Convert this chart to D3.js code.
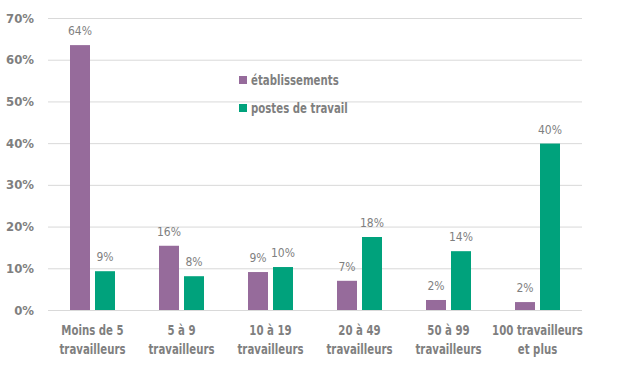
<!DOCTYPE html>
<html><head><meta charset="utf-8">
<script src="https://cdn.jsdelivr.net/npm/d3@7"></script>
<style>
body{margin:0;background:#fff;}
svg text{font-family:"Liberation Sans Narrow","DejaVu Sans Condensed","Arial Narrow",sans-serif;}
</style></head>
<body><svg id="c" width="618" height="381"></svg>
<script>
const categories = [["Moins de 5","travailleurs"],["5 à 9","travailleurs"],["10 à 19","travailleurs"],["20 à 49","travailleurs"],["50 à 99","travailleurs"],["100 travailleurs","et plus"]];
const etablissements = [63.5, 15.4, 9.1, 7.0, 2.4, 1.9];
const postes = [9.3, 8.1, 10.3, 17.5, 14.1, 39.9];
const etabLabels = ["64%","16%","9%","7%","2%","2%"];
const postesLabels = ["9%","8%","10%","18%","14%","40%"];
const yTicks = [0,10,20,30,40,50,60,70];
const seriesNames = ["établissements","postes de travail"];
const colors = ["#966b9b","#00a27c"];
const grey = "#7f7f7f";

(function(){
const svg = d3.select("#c");
const mLeft = 48, mRight = 582, mTop = 18, mBottom = 310;
const x = d3.scaleBand().domain(d3.range(categories.length)).range([mLeft,mRight]);
const y = d3.scaleLinear().domain([0,70]).range([mBottom,mTop]);
const barW = 20, gap = 5, sx = 0.84;

svg.append("g").selectAll("line").data(yTicks).join("line")
  .attr("x1",mLeft).attr("x2",mRight)
  .attr("y1",d=>y(d)+0.5).attr("y2",d=>y(d)+0.5)
  .attr("stroke","#d9d9d9").attr("stroke-width",1);

svg.append("g").selectAll("text").data(yTicks).join("text")
  .attr("x",34).attr("y",d=>y(d)).attr("dy","0.35em")
  .attr("text-anchor","end").attr("fill",grey)
  .attr("font-size",13).attr("font-weight","bold")
  .text(d=>d+"%");

const series = [etablissements, postes];
const labels = [etabLabels, postesLabels];
series.forEach((vals,si)=>{
  const g = svg.append("g");
  const xo = c => x(c) + x.bandwidth()/2 + (si===0 ? -(barW+gap/2) : gap/2);
  g.selectAll("rect").data(vals).join("rect")
    .attr("x",(d,i)=>xo(i)).attr("width",barW)
    .attr("y",d=>y(d)).attr("height",d=>y(0)-y(d))
    .attr("fill",colors[si]);
  g.selectAll("text").data(vals).join("text")
    .attr("x",(d,i)=>xo(i)+barW/2).attr("y",d=>y(d)-10)
    .attr("text-anchor","middle").attr("fill",grey)
    .attr("font-size",12)
    .text((d,i)=>labels[si][i]);
});

const xl = svg.append("g");
categories.forEach((lines,i)=>{
  lines.forEach((ln,j)=>{
    xl.append("text").attr("text-anchor","middle").attr("fill",grey)
      .attr("font-size",13.5).attr("font-weight","bold")
      .attr("transform",`translate(${x(i)+x.bandwidth()/2},${335+j*18.5}) scale(${sx},1)`)
      .text(ln);
  });
});

const leg = svg.append("g");
seriesNames.forEach((n,i)=>{
  const cy = 80 + i*28;
  leg.append("rect").attr("x",239).attr("y",cy-4).attr("width",8).attr("height",8).attr("fill",colors[i]);
  leg.append("text").attr("dy","0.35em")
    .attr("transform",`translate(251,${cy}) scale(${sx},1)`)
    .attr("fill",grey).attr("font-size",13.5).attr("font-weight","bold").text(n);
});
})();
</script></body></html>
